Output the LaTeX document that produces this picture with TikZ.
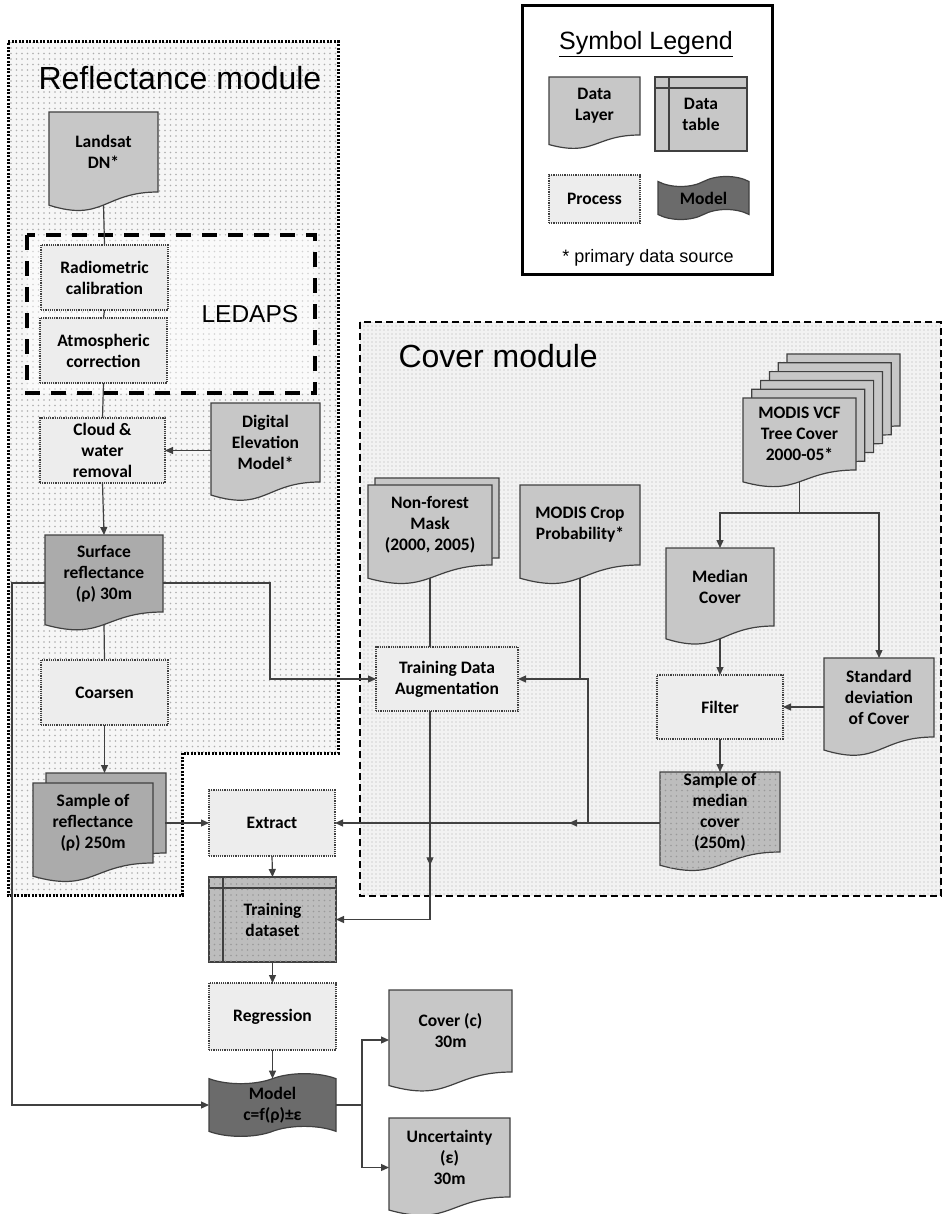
\documentclass[tikz,border=0pt]{standalone}
\usepackage{fontspec}
\setmainfont{Carlito}
\newfontfamily\headfont{Liberation Sans}
\usetikzlibrary{arrows.meta,calc,shapes.symbols,shadows,patterns,decorations.markings}

\definecolor{edgegray}{gray}{0.25}
\definecolor{layerfill}{gray}{0.78}
\definecolor{derivedfill}{gray}{0.67}
\definecolor{sampfill}{gray}{0.74}
\definecolor{procfill}{gray}{0.93}
\definecolor{modelfill}{gray}{0.42}
\definecolor{reflbg}{gray}{0.965}
\definecolor{coverbg}{gray}{0.95}
\definecolor{dotgray}{gray}{0.68}

\newcommand{\boxfont}{\fontsize{17.5}{21}\selectfont\bfseries}

% document shaped data layer, wavy bottom
\makeatletter
\newdimen\docxl \newdimen\docxr \newdimen\docxm
\newdimen\docyb \newdimen\docyt
\newdimen\wavelo \newdimen\wavecor
\pgfdeclareshape{datalayer}{
  \inheritsavedanchors[from=rectangle]
  \inheritanchorborder[from=rectangle]
  \inheritanchor[from=rectangle]{center}
  \inheritanchor[from=rectangle]{north}
  \inheritanchor[from=rectangle]{east}
  \inheritanchor[from=rectangle]{west}
  \inheritanchor[from=rectangle]{north east}
  \inheritanchor[from=rectangle]{north west}
  \inheritanchor[from=rectangle]{south east}
  \inheritanchor[from=rectangle]{south west}
  \anchor{south}{%
    \southwest \pgf@xa=\pgf@x \pgf@ya=\pgf@y
    \northeast
    \pgf@x=.5\pgf@x \advance\pgf@x by .5\pgf@xa
    \advance\pgf@y by -\pgf@ya
    \pgf@y=-.163\pgf@y \advance\pgf@y by \pgf@ya
  }
  \backgroundpath{%
    \southwest \docxl=\pgf@x \docyb=\pgf@y
    \northeast \docxr=\pgf@x \docyt=\pgf@y
    \docxm=.5\docxl \advance\docxm by .5\docxr
    \wavecor=\docyt \advance\wavecor by -\docyb
    \wavelo=-.38\wavecor \advance\wavelo by \docyb
    \wavecor=-.165\wavecor \advance\wavecor by \docyb
    \pgfpathmoveto{\pgfqpoint{\docxl}{\docyt}}
    \pgfpathlineto{\pgfqpoint{\docxr}{\docyt}}
    \pgfpathlineto{\pgfqpoint{\docxr}{\docyb}}
    \pgfpathcurveto{\pgfqpoint{\docxm}{\docyb}}{\pgfqpoint{\docxm}{\wavelo}}{\pgfqpoint{\docxl}{\wavecor}}
    \pgfpathclose
  }
}
\makeatother

\pgfdeclarepatternformonly{sparsedots}{\pgfqpoint{-1pt}{-1pt}}{\pgfqpoint{1pt}{1pt}}{\pgfqpoint{5.5pt}{5.5pt}}{\pgfpathcircle{\pgfpointorigin}{0.85pt}\pgfusepath{fill}}
\pgfdeclarepatternformonly{densedots}{\pgfqpoint{-1pt}{-1pt}}{\pgfqpoint{1pt}{1pt}}{\pgfqpoint{4pt}{4pt}}{\pgfpathcircle{\pgfpointorigin}{0.7pt}\pgfusepath{fill}}

\tikzset{
  layer/.style={datalayer, draw=edgegray, fill=layerfill, line width=1.2pt, outer sep=0pt, inner sep=1pt, align=center},
  derived/.style={fill=derivedfill},
  sampled/.style={fill=sampfill, postaction={pattern=sparsedots, pattern color=black!40}},
  process/.style={rectangle, draw=edgegray, fill=procfill, densely dotted, line width=1.2pt, outer sep=0pt, align=center},
  datatable/.style={rectangle, draw=edgegray, fill=layerfill, line width=1.2pt, outer sep=0pt, align=center,
    path picture={
      \draw[edgegray, line width=1.2pt] ([yshift=-11pt]path picture bounding box.north west) -- ([yshift=-11pt]path picture bounding box.north east);
      \draw[edgegray, line width=1.2pt] ([xshift=14pt]path picture bounding box.north west) -- ([xshift=14pt]path picture bounding box.south west);
    }},
  modelbox/.style={tape, draw=edgegray, fill=modelfill, line width=1.2pt, outer sep=0pt, align=center, tape bend height=10pt},
  stackback/.style={copy shadow={shadow xshift=#1, shadow yshift=#1, fill=layerfill, draw=edgegray}},
  vcfstack/.style={stackback=44pt, stackback=35.2pt, stackback=26.4pt, stackback=17.6pt, stackback=8.8pt},
  link/.style={edgegray, line width=1.2pt},
  midarrow/.style={postaction={decorate, decoration={markings, mark=at position #1 with {\arrow{>}}}}},
  title/.style={font=\headfont\fontsize{32}{36}\selectfont, anchor=base west}
}

\begin{document}
\begin{tikzpicture}[x=1pt, y=-1pt, >={Triangle[length=8pt,width=7pt]}, every node/.style={font=\boxfont}]
  \useasboundingbox (0,0) rectangle (944,1214);

  % module backgrounds
  \path[fill=reflbg, postaction={pattern=sparsedots, pattern color=dotgray},
        postaction={draw=black, line width=3pt, dash pattern=on 2pt off 1.5pt}]
    (8,42) -- (338,42) -- (338,753) -- (182,753) -- (182,895) -- (8,895) -- cycle;
  \path[fill=white, fill opacity=.45,
        postaction={draw=black, line width=3.5pt, dash pattern=on 15pt off 11pt}]
    (27,235) rectangle (315,393);
  \path[fill=coverbg, postaction={pattern=densedots, pattern color=dotgray},
        postaction={draw=black, line width=2.5pt, dash pattern=on 7pt off 4pt}]
    (360,322) rectangle (941,896);
  \draw[line width=3pt] (522,6) rectangle (772,275);

  \node[title] (refltitle) at (35,90) {Reflectance module};
  \node[title] (covertitle) at (395,367) {Cover module};
  \node[font=\headfont\fontsize{24.5}{28}\selectfont, anchor=base west] (ledaps) at (198,322) {LEDAPS};

  % legend
  \node[font=\headfont\fontsize{25}{28}\selectfont, anchor=base] (legtitle) at (646,50) {\underline{Symbol Legend}};
  \node[layer, minimum width=91pt, minimum height=58pt] (leglayer) at (594.5,106) {Data\\Layer};
  \node[datatable, minimum width=92pt, minimum height=74pt] (legtable) at (701,114) {Data\\table};
  \node[process, minimum width=91pt, minimum height=48pt] (legproc) at (594.5,199) {Process};
  \node[modelbox, minimum width=91pt, minimum height=43pt] (legmodel) at (703.5,198) {Model};
  \node[font=\headfont\fontsize{18}{20}\selectfont, anchor=base] (legnote) at (648,263) {* primary data source};

  % reflectance module
  \node[layer, minimum width=109pt, minimum height=80pt] (landsat) at (103.5,152) {Landsat\\DN*};
  \node[process, minimum width=127pt, minimum height=65pt] (radio) at (104.5,277.5) {Radiometric\\calibration};
  \node[process, minimum width=127pt, minimum height=65pt] (atmos) at (103.5,350.5) {Atmospheric\\correction};
  \node[process, minimum width=125pt, minimum height=65pt] (cloud) at (102.5,450.5) {Cloud \&\\water\\removal};
  \node[layer, minimum width=109pt, minimum height=79pt] (dem) at (265.5,442.5) {Digital\\Elevation\\Model*};
  \node[layer, derived, minimum width=118pt, minimum height=77pt] (surf) at (104,573.5) {Surface\\reflectance\\(ρ) 30m};
  \node[process, minimum width=127pt, minimum height=65pt] (coarsen) at (104.5,692.5) {Coarsen};
  \node[layer, derived, copy shadow={shadow xshift=13pt, shadow yshift=10pt, fill=derivedfill, draw=edgegray},
        minimum width=120pt, minimum height=80pt] (samprefl) at (93,823) {Sample of\\reflectance\\(ρ) 250m};

  % shared part
  \node[process, minimum width=126pt, minimum height=66pt] (extract) at (272,823) {Extract};
  \node[datatable, sampled, minimum width=127pt, minimum height=85pt] (train) at (272.5,919.5) {Training\\dataset};
  \node[process, minimum width=127pt, minimum height=67pt] (regress) at (272.5,1016.5) {Regression};
  \node[modelbox, minimum width=127pt, minimum height=60pt] (model) at (272.5,1105) {Model\\c=f(ρ)±ε};
  \node[layer, minimum width=123pt, minimum height=82pt] (coverc) at (450.5,1031) {Cover (c)\\30m};
  \node[layer, minimum width=121pt, minimum height=79pt] (uncert) at (449.5,1157.5) {Uncertainty\\(ε)\\30m};

  % cover module
  \node[layer, copy shadow={shadow xshift=7pt, shadow yshift=7pt, fill=layerfill, draw=edgegray},
        minimum width=124pt, minimum height=80pt] (nonforest) at (430,525) {Non-forest\\Mask\\(2000, 2005)};
  \node[layer, minimum width=120pt, minimum height=80pt] (crop) at (580,525) {MODIS Crop\\Probability*};
  \node[layer, vcfstack, minimum width=113pt, minimum height=72pt] (vcf) at (799.5,434) {MODIS VCF\\Tree Cover\\2000-05*};
  \node[layer, minimum width=108pt, minimum height=78pt] (median) at (720,587) {Median\\Cover};
  \node[layer, minimum width=110pt, minimum height=79pt] (stdev) at (879,697.5) {Standard\\deviation\\of Cover};
  \node[process, minimum width=126pt, minimum height=64pt] (filter) at (720,707) {Filter};
  \node[layer, sampled, minimum width=120pt, minimum height=80pt] (sampmed) at (720,812) {Sample of\\median\\cover\\(250m)};
  \node[process, minimum width=142pt, minimum height=64pt] (tda) at (447,679) {Training Data\\Augmentation};

  % junctions
  \coordinate (surfl) at (12,583);
  \coordinate (surfr) at (270,583);
  \coordinate (modj) at (362,1105);
  \coordinate (sampj) at (588,823);
  \coordinate (vcfj) at (799.5,513);

  % connectors
  \draw[link] (landsat.south) -- (radio.north);
  \draw[link] (radio.south) -- (atmos.north);
  \draw[link] (atmos.south) -- (cloud.north);
  \draw[link, ->] (dem.west |- cloud.east) -- (cloud.east);
  \draw[link, ->] (cloud.south) -- (surf.north);
  \draw[link, ->] (surf.west |- surfl) -- (surfl) |- (model.west);
  \draw[link, ->] (surf.east |- surfr) -- (surfr) |- (tda.west);
  \draw[link] (surf.south) -- (coarsen.north);
  \draw[link, ->] (coarsen.south) -- ($(coarsen.south |- samprefl.north)+(0,-10)$);
  \draw[link, ->] ($(samprefl.east)+(12,0)$) -- (extract.west);
  \draw[link, ->] (extract.south) -- (train.north);
  \draw[link, ->] (train.south) -- (regress.north);
  \draw[link, ->] (regress.south) -- (model.north);
  \draw[link] (model.east) -- (modj);
  \draw[link, ->] (modj) |- ($(coverc.west)+(0,9)$);
  \draw[link, ->] (modj) |- ($(uncert.west)+(0,10)$);

  \draw[link] (nonforest.south) -- (nonforest.south |- tda.north);
  \draw[link, ->, midarrow=0.51] (nonforest.south |- tda.south) |- (train.east);
  \draw[link] (crop.south) -- (crop.south |- tda.east);
  \draw[link, ->, midarrow=0.28] (sampmed.west |- sampj) -- (extract.east);
  \draw[link, ->] (sampj) |- (tda.east);
  \draw[link] (vcf.south) -- (vcfj);
  \draw[link, ->] (vcfj) -| (median.north);
  \draw[link, ->] (vcfj) -| (stdev.north);
  \draw[link, ->] (median.south) -- (filter.north);
  \draw[link, ->] (stdev.west |- filter.east) -- (filter.east);
  \draw[link, ->] (filter.south) -- (sampmed.north);
\end{tikzpicture}
\end{document}
